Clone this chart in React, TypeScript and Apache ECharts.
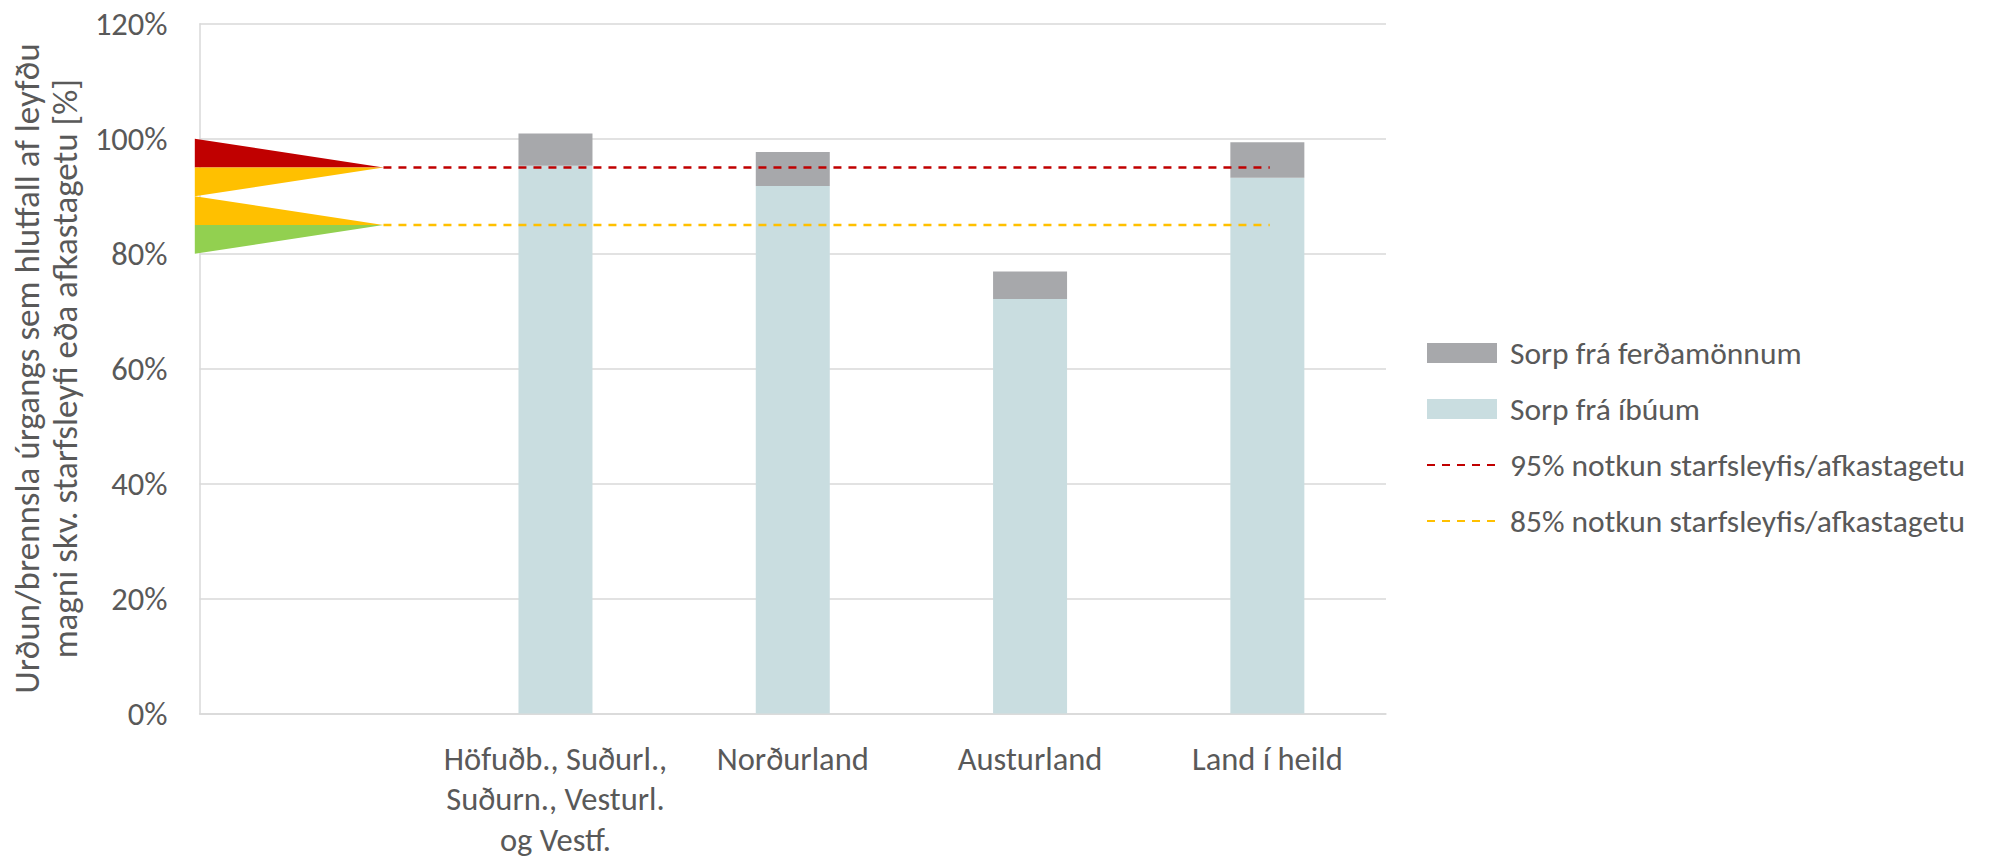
import React, { useEffect, useRef } from "react";
import * as echarts from "echarts";

// ---- data ----
const categories = [
  "",
  "Höfuðb., Suðurl.,\nSuðurn., Vesturl.\nog Vestf.",
  "Norðurland",
  "Austurland",
  "Land í heild",
];
const residents = [null, 95.3, 91.8, 72.1, 93.2];
const tourists = [null, 5.6, 5.9, 4.8, 6.2];

const seriesNames = [
  "Sorp frá ferðamönnum",
  "Sorp frá íbúum",
  "95% notkun starfsleyfis/afkastagetu",
  "85% notkun starfsleyfis/afkastagetu",
];

// threshold lines: [x (category units 0..5), value]
const line95 = [
  [0.775, 95],
  [4.51, 95],
];
const line85 = [
  [0.775, 85],
  [4.51, 85],
];

// indicator triangles: [top, bottom, apex value]
const triangles = [
  [100, 95, 95],
  [95, 90, 95],
  [90, 85, 85],
  [85, 80, 85],
];
const triangleColors = ["#C00000", "#FFC000", "#FFC000", "#92D050"];
const triangleLeftX = -0.02;
const triangleApexX = 0.775;

const yTicks = { min: 0, max: 120, interval: 20 };

const FONT = "Carlito, Lato, 'Open Sans', sans-serif";
const TEXT = "#595959";
const GRID = "#D9D9D9";

export default function App() {
  const ref = useRef<HTMLDivElement>(null);
  useEffect(() => {
    if (!ref.current) return;
    const chart = echarts.init(ref.current, null, { renderer: "svg" });
    chart.setOption({
      animation: false,
      textStyle: { fontFamily: FONT },
      grid: { left: 197, right: 605, top: 23.8, bottom: 138 },
      legend: {
        orient: "vertical",
        left: 1421,
        top: 332,
        itemWidth: 70,
        itemHeight: 20,
        itemGap: 24,
        data: [
          { name: seriesNames[0], icon: "rect" },
          { name: seriesNames[1], icon: "rect" },
          { name: seriesNames[2], itemStyle: { opacity: 0 } },
          { name: seriesNames[3], itemStyle: { opacity: 0 } },
        ],
        textStyle: { color: TEXT, fontSize: 31.5, fontFamily: FONT, padding: [0, 0, 0, 8] },
      },
      xAxis: [
        {
          type: "category",
          data: categories,
          axisLine: { show: true, lineStyle: { color: GRID, width: 1.5 } },
          axisTick: { show: false },
          axisLabel: {
            color: TEXT,
            fontSize: 32.5,
            lineHeight: 40.5,
            margin: 25,
            interval: 0,
            fontFamily: FONT,
          },
        },
        { type: "value", min: 0, max: 5, show: false },
      ],
      yAxis: {
        type: "value",
        min: yTicks.min,
        max: yTicks.max,
        interval: yTicks.interval,
        axisLine: { show: true, lineStyle: { color: GRID, width: 1.5 } },
        axisTick: { show: false },
        splitLine: { lineStyle: { color: GRID, width: 1.5 } },
        axisLabel: {
          color: TEXT,
          fontSize: 32.5,
          margin: 32,
          formatter: (v: number) => v + "%",
          fontFamily: FONT,
        },
        name:
          "Urðun/brennsla úrgangs sem hlutfall af leyfðu\nmagni skv. starfsleyfi eða afkastagetu [%]",
        nameLocation: "middle",
        nameRotate: 90,
        nameGap: 108,
        nameTextStyle: { color: TEXT, fontSize: 35, lineHeight: 38, fontFamily: FONT },
      },
      series: [
        {
          name: seriesNames[1],
          type: "bar",
          stack: "total",
          data: residents,
          barWidth: 74,
          itemStyle: { color: "#C9DDE0" },
          z: 2,
        },
        {
          name: seriesNames[0],
          type: "bar",
          stack: "total",
          data: tourists,
          barWidth: 74,
          itemStyle: { color: "#A7A8AB" },
          z: 2,
        },
        {
          type: "custom",
          xAxisIndex: 1,
          yAxisIndex: 0,
          data: triangles,
          z: 3,
          silent: true,
          renderItem: (params: any, api: any) => {
            const top = api.value(0);
            const bottom = api.value(1);
            const apex = api.value(2);
            const p1 = api.coord([triangleLeftX, top]);
            const p2 = api.coord([triangleLeftX, bottom]);
            const p3 = api.coord([triangleApexX, apex]);
            return {
              type: "polygon",
              shape: { points: [p1, p2, p3] },
              style: { fill: triangleColors[params.dataIndex] },
            };
          },
        },
        {
          name: seriesNames[2],
          type: "line",
          xAxisIndex: 1,
          data: line95,
          symbol: "none",
          z: 4,
          lineStyle: { color: "#C00000", width: 2.5, type: [8, 7] },
          itemStyle: { color: "#C00000" },
        },
        {
          name: seriesNames[3],
          type: "line",
          xAxisIndex: 1,
          data: line85,
          symbol: "none",
          z: 4,
          lineStyle: { color: "#FFC000", width: 2.5, type: [8, 7] },
          itemStyle: { color: "#FFC000" },
        },
      ],
    });
    return () => chart.dispose();
  }, []);
  return (
    <div
      ref={ref}
      style={{ position: "fixed", left: 0, top: 0, width: "1991px", height: "860px", background: "#fff" }}
    />
  );
}
